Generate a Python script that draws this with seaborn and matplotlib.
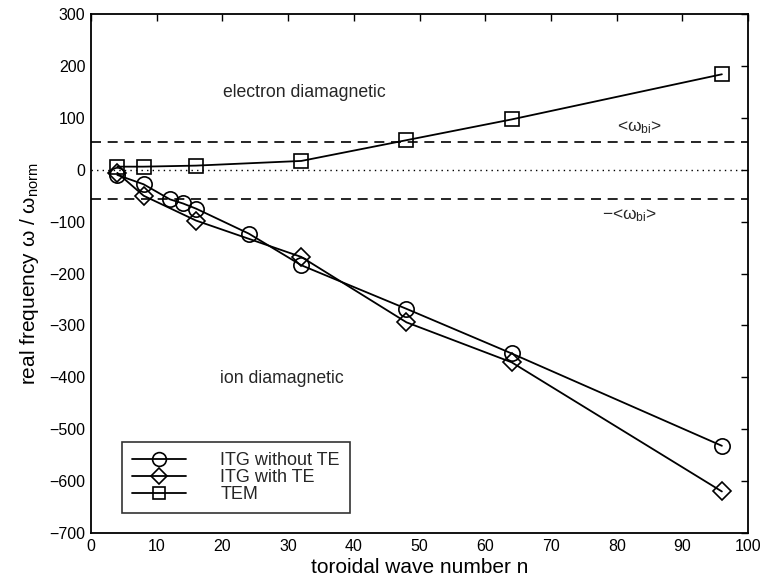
import matplotlib
matplotlib.use("Agg")
import matplotlib.pyplot as plt
import seaborn as sns
import pandas as pd

# ---- data ----
n_itg_noTE = [4, 8, 12, 14, 16, 24, 32, 48, 64, 96]
w_itg_noTE = [-10, -28, -57, -65, -75, -123, -184, -268, -354, -532]

n_itg_TE = [4, 8, 16, 32, 48, 64, 96]
w_itg_TE = [-6, -50, -98, -168, -294, -371, -620]

n_tem = [4, 8, 16, 32, 48, 64, 96]
w_tem = [6, 6, 8, 17, 57, 97, 184]

omega_bi_pos = 53
omega_bi_neg = -57

sns.set_theme(style="white")
plt.rcParams['font.family'] = ['Liberation Sans', 'DejaVu Sans']
plt.rcParams['mathtext.fontset'] = 'custom'
plt.rcParams['mathtext.rm'] = 'Liberation Sans'
plt.rcParams['mathtext.it'] = 'Liberation Sans'

fig = plt.figure(figsize=(7.65, 5.87), dpi=100)
ax = fig.add_axes([0.119, 0.092, 0.859, 0.884])

common = dict(color='black', linewidth=1.3, mfc='none', mec='black', mew=1.2)
sns.lineplot(x=n_itg_noTE, y=w_itg_noTE, ax=ax, marker='o', ms=11,
             label='ITG without TE', **common)
sns.lineplot(x=n_itg_TE, y=w_itg_TE, ax=ax, marker='D', ms=9,
             label='ITG with TE', **common)
sns.lineplot(x=n_tem, y=w_tem, ax=ax, marker='s', ms=9.5,
             label='TEM', **common)

ax.axhline(omega_bi_pos, color='black', ls=(0, (6, 4)), lw=1.2, zorder=1)
ax.axhline(omega_bi_neg, color='black', ls=(0, (6, 4)), lw=1.2, zorder=1)
ax.axhline(0, color='black', ls=(0, (1, 3)), lw=1.0, zorder=1)

ax.text(83.5, 82, r'<$\omega_{\rm bi}$>', fontsize=12.5, ha='center', va='center')
ax.text(82, -88, r'$-$<$\omega_{\rm bi}$>', fontsize=12.5, ha='center', va='center')
ax.text(32.5, 148, 'electron diamagnetic', fontsize=12.7, ha='center', va='center')
ax.text(29, -402, 'ion diamagnetic', fontsize=12.7, ha='center', va='center')

ax.set_xlim(0, 100)
ax.set_ylim(-700, 300)
ax.set_xticks(range(0, 101, 10))
ax.set_yticks(range(-700, 301, 100))
ax.set_yticklabels([str(v).replace('-', '\u2212') for v in range(-700, 301, 100)])
ax.tick_params(direction='in', length=5, width=1, top=True, right=True,
               labelsize=11.5, colors='black', pad=4)
for s in ax.spines.values():
    s.set_color('black')
    s.set_linewidth(1.3)

ax.set_xlabel('toroidal wave number n', fontsize=15, color='black', labelpad=3)
ax.set_ylabel(r'real frequency $\omega$ / $\omega_{\rm norm}$', fontsize=15,
              color='black', labelpad=6)

leg = ax.legend(loc='lower left', bbox_to_anchor=(0.047, 0.0385), borderaxespad=0,
                fontsize=13, frameon=True, fancybox=False, edgecolor='black',
                handlelength=3.0, handletextpad=1.9, borderpad=0.55,
                labelspacing=0.0, markerscale=0.9)
leg.get_frame().set_linewidth(1.2)

fig.savefig('out.png', dpi=100)
